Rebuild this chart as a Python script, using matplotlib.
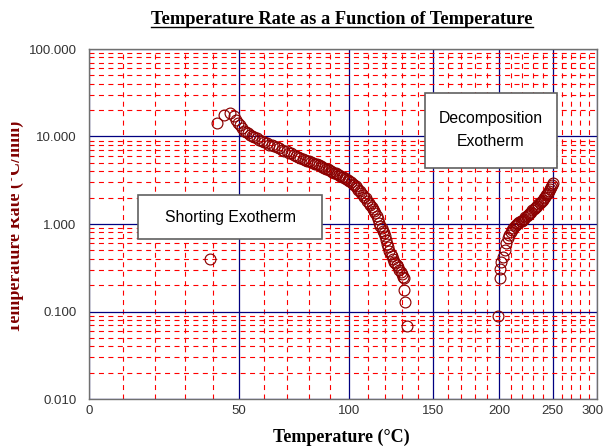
import numpy as np
import matplotlib.pyplot as plt
from matplotlib.ticker import FixedLocator, LogLocator, FormatStrFormatter, NullFormatter
from matplotlib.patches import Rectangle
from matplotlib.transforms import Bbox, ScaledTranslation
from matplotlib.lines import Line2D

# --- data (temperature in C, rate in C/min) ---
shorting_temp = [38.8, 41.6, 44.0, 46.3, 47.8, 48.6, 49.4, 50.2, 51.0, 51.8, 52.6, 53.4,
                 54.2, 55.0, 56.0, 57.1, 58.1, 59.1, 60.2, 61.2, 62.3, 63.4, 64.5, 65.6,
                 66.6, 67.7, 68.8, 69.9, 71.0, 72.0, 73.1, 74.1, 75.1, 76.1, 77.1, 78.1,
                 79.1, 80.1, 81.0, 82.0, 82.9, 83.8, 84.7, 85.6, 86.5, 87.3, 88.2, 89.0,
                 89.8, 90.6, 91.4, 92.2, 93.0, 93.8, 94.6, 95.4, 96.2, 97.0, 97.8, 98.6,
                 99.4, 100.2, 101.0, 101.8, 102.6, 103.4, 104.2, 105.0, 105.8, 106.6,
                 107.4, 108.2, 109.0, 109.8, 110.6, 111.4, 112.2, 113.0, 113.7, 114.4,
                 115.1, 115.8, 116.5, 117.2, 117.9, 118.6, 119.3, 120.0, 120.7, 121.3,
                 121.9, 122.5, 123.1, 123.7, 124.4, 125.2, 126.0, 126.8, 127.6, 128.4,
                 129.2, 130.0, 130.8, 131.4, 131.4, 132.1, 133.3]
shorting_rate = [0.40, 14.4, 17.4, 18.4, 17.0, 15.3, 14.3, 13.4, 12.4, 11.7, 11.4, 11.1,
                 10.5, 10.0, 9.8, 9.5, 9.2, 8.9, 8.6, 8.4, 8.1, 7.9, 7.7, 7.5,
                 7.3, 7.1, 6.9, 6.75, 6.55, 6.4, 6.2, 6.05, 5.9, 5.7, 5.55, 5.4,
                 5.3, 5.2, 5.1, 5.0, 4.9, 4.8, 4.7, 4.6, 4.5, 4.4, 4.3, 4.2,
                 4.1, 4.0, 3.95, 3.85, 3.78, 3.7, 3.62, 3.55, 3.47, 3.4, 3.32, 3.25,
                 3.17, 3.1, 3.0, 2.9, 2.8, 2.7, 2.58, 2.47, 2.37, 2.26,
                 2.16, 2.06, 1.96, 1.85, 1.76, 1.67, 1.58, 1.5, 1.42, 1.33,
                 1.23, 1.13, 1.03, 0.96, 0.9, 0.84, 0.79, 0.72, 0.65, 0.59,
                 0.54, 0.49, 0.455, 0.43, 0.40, 0.37, 0.355, 0.34, 0.32, 0.30,
                 0.28, 0.27, 0.25, 0.24, 0.174, 0.13, 0.069]

decomp_temp = [198.7, 200.4, 200.4, 201.2, 202.9, 204.7, 205.5, 207.3, 208.6, 209.9,
               211.0, 212.2, 213.3, 214.4, 215.5, 216.6, 217.7, 218.8, 219.8, 220.8,
               222.0, 223.1, 224.2, 225.2, 226.3, 227.3, 228.5, 229.7, 230.9, 232.0,
               233.1, 234.3, 235.5, 236.7, 237.8, 239.0, 240.0, 241.0, 242.0, 243.0,
               244.0, 245.0, 246.0, 247.0, 248.1, 249.1, 250.1]
decomp_rate = [0.090, 0.24, 0.31, 0.366, 0.42, 0.50, 0.60, 0.69, 0.75, 0.81,
               0.86, 0.91, 0.94, 0.97, 1.0, 1.03, 1.05, 1.07, 1.09, 1.11,
               1.15, 1.19, 1.23, 1.27, 1.30, 1.34, 1.38, 1.43, 1.48, 1.52,
               1.57, 1.62, 1.68, 1.74, 1.80, 1.85, 1.89, 1.96, 2.04, 2.12,
               2.20, 2.27, 2.38, 2.5, 2.66, 2.8, 2.96]

x_major = [0, 50, 100, 150, 200, 250, 300]
y_major = [0.01, 0.1, 1, 10, 100]


# x axis is linear in 1/T (Kelvin), labelled in C
def fwd(t):
    return -1.0 / (np.asarray(t, dtype=float) + 273.15)


def inv(u):
    return -1.0 / np.asarray(u, dtype=float) - 273.15


fig = plt.figure(figsize=(6.05, 4.48), dpi=100)
ax = fig.add_axes([89 / 605, 1 - 399 / 448, 508 / 605, 350 / 448])

ax.set_xscale('function', functions=(fwd, inv))
ax.set_yscale('log')
ax.set_xlim(0, 300)
ax.set_ylim(0.01, 100)

ax.xaxis.set_major_locator(FixedLocator(x_major))
ax.xaxis.set_minor_locator(FixedLocator([t for t in range(10, 300, 10) if t % 50]))
ax.xaxis.set_minor_formatter(NullFormatter())
ax.yaxis.set_major_locator(FixedLocator(y_major))
ax.yaxis.set_minor_locator(LogLocator(base=10, subs=np.arange(2, 10)))
ax.yaxis.set_minor_formatter(NullFormatter())
ax.yaxis.set_major_formatter(FormatStrFormatter('%.3f'))

ax.grid(which='minor', color='#ff0000', lw=0.8, ls=(0, (4.5, 4)))
ax.grid(which='major', color='#000080', lw=0.9, ls='-')
ax.set_axisbelow(True)
ax.tick_params(which='both', length=0)
ax.tick_params(axis='y', pad=9)
ax.tick_params(axis='x', pad=4)
for lab in ax.get_xticklabels() + ax.get_yticklabels():
    lab.set_fontfamily('Liberation Sans')
    lab.set_fontsize(9.5)
    lab.set_color('#333333')
# keep the last x label inside the figure edge
last = ax.get_xticklabels()[-1]
last.set_transform(last.get_transform() + ScaledTranslation(-4 / 100, 0, fig.dpi_scale_trans))
for sp in ax.spines.values():
    sp.set_color('#707070')
    sp.set_linewidth(1.0)

ax.plot(shorting_temp, shorting_rate, ls='none', marker='o', ms=7.8,
        mfc='none', mec='#8b0000', mew=0.85, clip_on=False, zorder=3)
ax.plot(decomp_temp, decomp_rate, ls='none', marker='o', ms=7.8,
        mfc='none', mec='#8b0000', mew=0.85, clip_on=False, zorder=3)

# annotation boxes
ax.add_patch(Rectangle((0.0965, 0.457), 0.362, 0.126, transform=ax.transAxes,
                       fc='white', ec='#606060', lw=1.2, zorder=4))
ax.text(0.2776, 0.52, 'Shorting Exotherm', transform=ax.transAxes, ha='center',
        va='center', fontsize=11.3, family='Liberation Sans', zorder=5)
ax.add_patch(Rectangle((0.6614, 0.66), 0.26, 0.214, transform=ax.transAxes,
                       fc='white', ec='#606060', lw=1.2, zorder=4))
ax.text(0.7913, 0.7686, 'Decomposition\nExotherm', transform=ax.transAxes, ha='center',
        va='center', fontsize=11.3, family='Liberation Sans', linespacing=1.7, zorder=5)

# titles
title = fig.text(342 / 605, 1 - 20 / 448, 'Temperature Rate as a Function of Temperature',
                 ha='center', va='center', fontsize=13.2, fontweight='bold',
                 family='Liberation Serif')
fig.text(341 / 605, 1 - 437 / 448, 'Temperature (°C)', ha='center', va='center',
         fontsize=13, fontweight='bold', family='Liberation Serif')
ylab = fig.text(15 / 605, 1 - 227 / 448, 'Temperature Rate (°C/min)', ha='center',
                va='center', rotation=90, fontsize=13, fontweight='bold',
                family='Liberation Serif', color='#800000')
ylab.set_clip_box(Bbox.from_extents(11, 0, 605, 448))
ylab.set_clip_on(True)

# underline the title
fig.canvas.draw()
bb = title.get_window_extent(fig.canvas.get_renderer())
uy = (bb.y0 + 1) / 448
fig.add_artist(Line2D([bb.x0 / 605, bb.x1 / 605], [uy, uy], color='black', lw=1.0))

plt.savefig('out.png', dpi=100)
